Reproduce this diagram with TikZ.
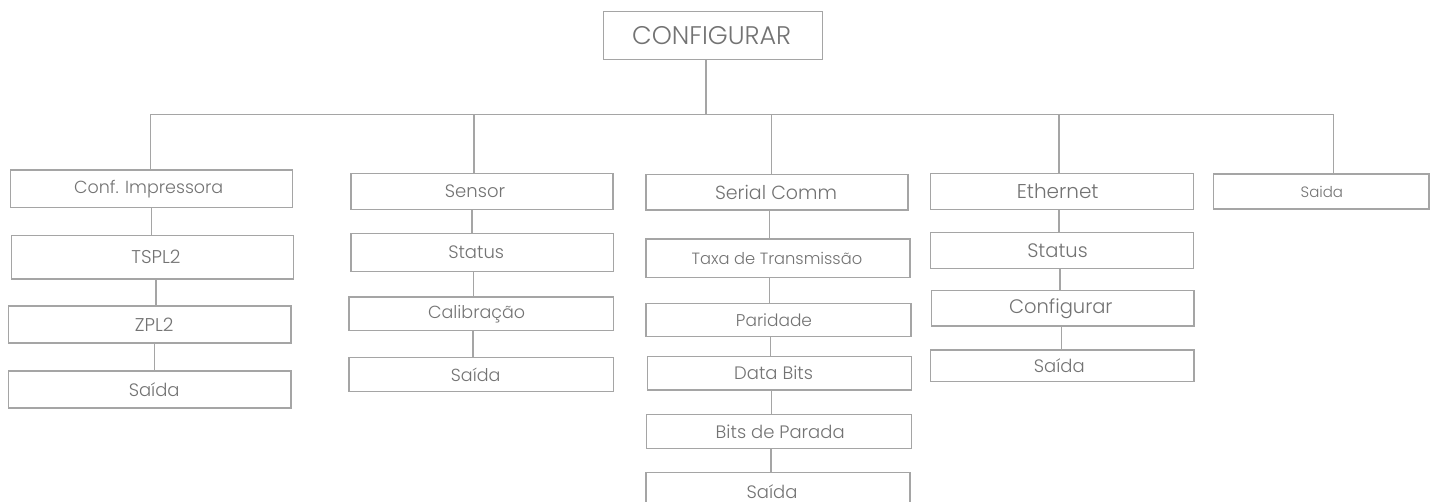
\documentclass[tikz,border=0pt]{standalone}
\usepackage{fontspec}
\setmainfont{Poppins}[UprightFont={* Light}]
\definecolor{lg}{HTML}{A5A5A5}
\definecolor{tg}{HTML}{737373}
\tikzset{
  box/.style={draw=lg, line width=1.2pt, inner sep=0pt, text=tg, fill=white},
  bx/.style n args={2}{minimum width=#1, minimum height=#2},
  fs/.style={font=\fontsize{#1}{#1}\selectfont},
  sh/.style={execute at begin node={\hspace*{#1}}},
  conn/.style={draw=lg, line width=1.2pt}
}
\begin{document}
\begin{tikzpicture}[x=1pt,y=-1pt]
\fill[white] (0,0) rectangle (1436,502);
\useasboundingbox (0,0) rectangle (1436,502);
% root
\node[box,bx={219}{48},fs=25.5,sh=-2.6pt] (root) at (713,35.6) {CONFIGURAR};
% column 1
\node[box,bx={282}{37.3},fs=17.5,sh=-6pt] (conf) at (151.7,188.7) {Conf. Impressora};
\node[box,bx={282.4}{43.7},fs=18.5,sh=7pt] (tspl) at (152.5,257.2) {TSPL2};
\node[box,bx={282.7}{37},fs=18.5,sh=9pt] (zpl) at (149.7,324.5) {ZPL2};
\node[box,bx={282.7}{37},fs=18,sh=9pt] (sai1) at (149.7,389.5) {Saída};
% column 2
\node[box,bx={262}{35.6},fs=18,sh=-14pt] (sensor) at (482,191.5) {Sensor};
\node[box,bx={262.5}{38.4},fs=18,sh=-12pt] (stat2) at (482.2,252.5) {Status};
\node[box,bx={264.5}{33.3},fs=17.5,sh=-9pt] (calib) at (481.2,313.7) {Calibração};
\node[box,bx={264.5}{34.4},fs=17.5,sh=-11pt] (sai2) at (481.2,374.5) {Saída};
% column 3
\node[box,bx={262}{35.7},fs=19,sh=-2pt] (serial) at (777,192.2) {Serial Comm};
\node[box,bx={264}{38.3},fs=16.3,sh=-2pt] (taxa) at (778,258.2) {Taxa de Transmissão};
\node[box,bx={265}{33.4},fs=17,sh=-9pt] (parid) at (778.5,320) {Paridade};
\node[box,bx={264}{33.5},fs=18,sh=-12pt] (dbits) at (779.6,373.2) {Data Bits};
\node[box,bx={265}{33.6},fs=18,sh=2pt] (bpar) at (779.2,431.5) {Bits de Parada};
\node[box,bx={264}{38},fs=18,sh=-12pt,anchor=north] (sai3) at (778,472) {Saída};
% column 4
\node[box,bx={262.6}{36},fs=20,sh=-8.6pt] (eth) at (1062,191.3) {Ethernet};
\node[box,bx={262.6}{35.6},fs=19.5,sh=-9pt] (stat4) at (1062,250.5) {Status};
\node[box,bx={262.3}{35.3},fs=19.5,sh=-4pt] (confg) at (1062.8,308.4) {Configurar};
\node[box,bx={263.3}{31.7},fs=18,sh=-6pt] (sai4) at (1062.3,365.8) {Saída};
% column 5
\node[box,bx={215.3}{35},fs=15,sh=1pt] (sai5) at (1321.4,191.5) {Saida};
% bus coordinates
\coordinate (b1) at (150.6,114.3);
\coordinate (b2) at (474,114.3);
\coordinate (b3) at (771.5,114.3);
\coordinate (b4) at (1059,114.3);
\coordinate (b5) at (1333.3,114.3);
\coordinate (br) at (706,114.3);
% vertical connector x positions
\coordinate (x1a) at (151.5,0);
\coordinate (x1b) at (156,0);
\coordinate (x1c) at (154.7,0);
\coordinate (x2a) at (472,0);
\coordinate (x2b) at (473.4,0);
\coordinate (x2c) at (473,0);
\coordinate (x3a) at (769.5,0);
\coordinate (x3b) at (769.5,0);
\coordinate (x3c) at (770.5,0);
\coordinate (x3d) at (771.5,0);
\coordinate (x3e) at (771,0);
\coordinate (x4a) at (1059,0);
\coordinate (x4b) at (1060,0);
\coordinate (x4c) at (1061.3,0);
% connectors
\draw[conn] (root.south -| br) -- (br);
\draw[conn] (b1) -- (b5);
\draw[conn] (b1) -- (conf.north -| b1);
\draw[conn] (b2) -- (sensor.north -| b2);
\draw[conn] (b3) -- (serial.north -| b3);
\draw[conn] (b4) -- (eth.north -| b4);
\draw[conn] (b5) -- (sai5.north -| b5);
\draw[conn] (conf.south -| x1a) -- (tspl.north -| x1a);
\draw[conn] (tspl.south -| x1b) -- (zpl.north -| x1b);
\draw[conn] (zpl.south -| x1c) -- (sai1.north -| x1c);
\draw[conn] (sensor.south -| x2a) -- (stat2.north -| x2a);
\draw[conn] (stat2.south -| x2b) -- (calib.north -| x2b);
\draw[conn] (calib.south -| x2c) -- (sai2.north -| x2c);
\draw[conn] (serial.south -| x3a) -- (taxa.north -| x3a);
\draw[conn] (taxa.south -| x3b) -- (parid.north -| x3b);
\draw[conn] (parid.south -| x3c) -- (dbits.north -| x3c);
\draw[conn] (dbits.south -| x3d) -- (bpar.north -| x3d);
\draw[conn] (bpar.south -| x3e) -- (sai3.north -| x3e);
\draw[conn] (eth.south -| x4a) -- (stat4.north -| x4a);
\draw[conn] (stat4.south -| x4b) -- (confg.north -| x4b);
\draw[conn] (confg.south -| x4c) -- (sai4.north -| x4c);
\end{tikzpicture}
\end{document}
